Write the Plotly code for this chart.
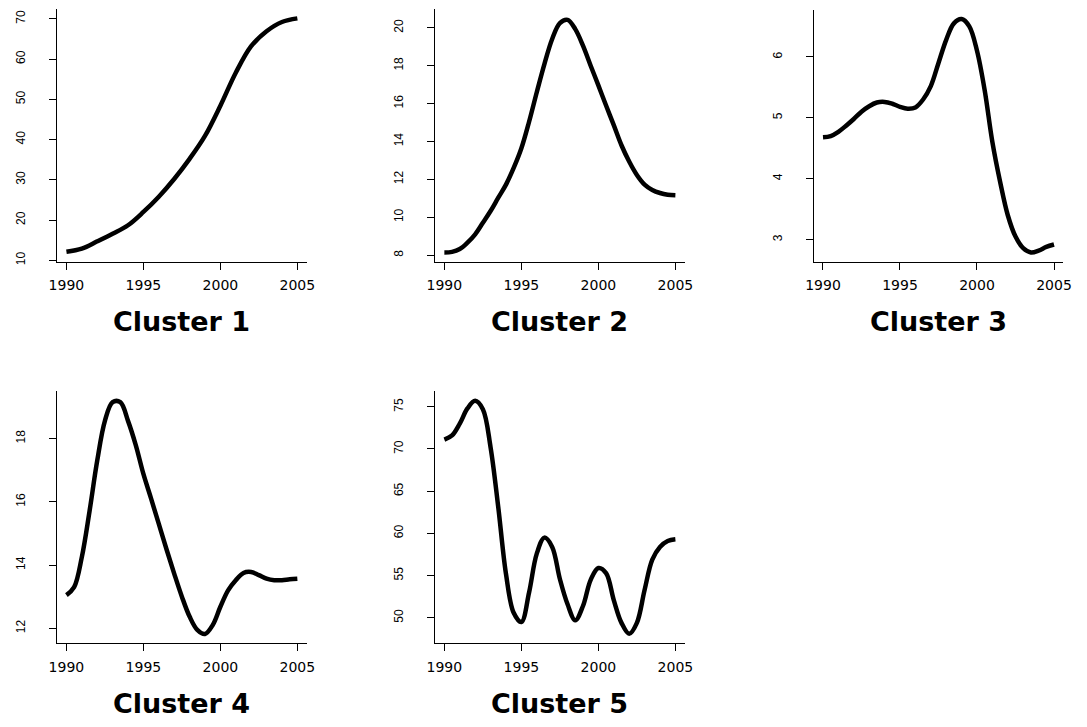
import plotly.graph_objects as go

# ---- data ----
years1 = [1990, 1991, 1992, 1993, 1994, 1995, 1996, 1997, 1998, 1999, 2000, 2001, 2002, 2003, 2004, 2005]
c1 = [12.1, 12.9, 14.7, 16.6, 18.7, 22.0, 25.8, 30.2, 35.2, 40.9, 48.4, 56.6, 63.2, 66.9, 69.2, 70.1]

years_half = [1990, 1990.5, 1991, 1991.5, 1992, 1992.5, 1993, 1993.5, 1994, 1994.5, 1995, 1995.5,
              1996, 1996.5, 1997, 1997.5, 1998, 1998.5, 1999, 1999.5, 2000, 2000.5, 2001, 2001.5,
              2002, 2002.5, 2003, 2003.5, 2004, 2004.5, 2005]

c2 = [8.14, 8.17, 8.32, 8.66, 9.1, 9.71, 10.33, 11.03, 11.72, 12.6, 13.64, 15.04,
      16.6, 18.1, 19.41, 20.25, 20.42, 19.93, 19.06, 18.0, 16.96, 15.9, 14.86, 13.8,
      12.94, 12.23, 11.72, 11.44, 11.28, 11.19, 11.16]

c3 = [4.68, 4.7, 4.77, 4.87, 4.98, 5.1, 5.19, 5.25, 5.26, 5.23, 5.18, 5.15,
      5.17, 5.3, 5.52, 5.9, 6.28, 6.55, 6.62, 6.5, 6.1, 5.45, 4.6, 3.95,
      3.4, 3.05, 2.86, 2.79, 2.82, 2.88, 2.92]

c4 = [13.05, 13.3, 14.25, 15.7, 17.3, 18.56, 19.15, 19.15, 18.56, 17.8, 16.88, 16.1,
      15.3, 14.5, 13.73, 13.0, 12.37, 11.95, 11.82, 12.1, 12.68, 13.2, 13.52, 13.75,
      13.78, 13.68, 13.57, 13.52, 13.52, 13.55, 13.57]

c5 = [71.1, 71.6, 73.0, 74.8, 75.7, 74.7, 70.2, 63.1, 55.2, 50.6, 49.5, 53.0,
      57.6, 59.5, 58.4, 54.6, 51.6, 49.7, 51.4, 54.5, 55.9, 55.3, 52.1, 49.4,
      48.1, 49.4, 53.3, 56.9, 58.4, 59.1, 59.3]

titles = ["Cluster 1", "Cluster 2", "Cluster 3", "Cluster 4", "Cluster 5"]
x_ticks = [1990, 1995, 2000, 2005]
y_ticks = [
    [10, 20, 30, 40, 50, 60, 70],
    [8, 10, 12, 14, 16, 18, 20],
    [3, 4, 5, 6],
    [12, 14, 16, 18],
    [50, 55, 60, 65, 70, 75],
]

series_x = [years1, years_half, years_half, years_half, years_half]
series_y = [c1, c2, c3, c4, c5]

# ---- layout geometry (pixels) ----
W, H = 1087, 727
boxes = [  # left, right, top, bottom
    (49, 302.6, 9.5, 263),
    (433.3, 687, 9.5, 263),
    (818.3, 1072, 10, 263),
    (49, 302.6, 393.3, 646.7),
    (433.3, 687, 393.3, 646.7),
]
y_ranges = [(9.68, 72.32), (7.66, 20.97), (2.64, 6.77), (11.53, 19.5), (47.0, 76.85)]
title_y = [323, 323, 323, 707, 707]

fig = go.Figure()
layout = dict(
    width=W, height=H, autosize=False,
    margin=dict(l=0, r=0, t=0, b=0),
    paper_bgcolor="white", plot_bgcolor="white",
    showlegend=False,
)
annotations = []
for i in range(5):
    n = "" if i == 0 else str(i + 1)
    l, r, t, b = boxes[i]
    fig.add_trace(go.Scatter(
        x=series_x[i], y=series_y[i], mode="lines",
        line=dict(color="black", width=4.5, shape="spline", smoothing=1.0),
        xaxis="x" + n, yaxis="y" + n, hoverinfo="skip",
    ))
    layout["xaxis" + n] = dict(
        domain=[l / W, r / W], anchor="y" + n,
        range=[1989.4, 2005.6], tickvals=x_ticks,
        showline=True, linecolor="black", linewidth=1,
        ticks="outside", ticklen=7, tickwidth=1, tickcolor="black",
        showgrid=False, zeroline=False,
        tickfont=dict(family="DejaVu Sans", size=14, color="black"),
        ticklabelstandoff=4,
    )
    layout["yaxis" + n] = dict(
        domain=[1 - b / H, 1 - t / H], anchor="x" + n,
        range=list(y_ranges[i]), tickvals=y_ticks[i],
        showline=True, linecolor="black", linewidth=1,
        ticks="outside", ticklen=7, tickwidth=1, tickcolor="black",
        showgrid=False, zeroline=False, tickangle=-90,
        tickfont=dict(family="Liberation Sans", size=12, color="black"),
        ticklabelstandoff=19,
    )
    annotations.append(dict(
        text="<b>" + titles[i] + "</b>", xref="paper", yref="paper",
        x=(l + r) / 2 / W, y=1 - title_y[i] / H,
        xanchor="center", yanchor="middle", showarrow=False,
        font=dict(family="DejaVu Sans", size=27, color="black"),
    ))
layout["annotations"] = annotations
fig.update_layout(**layout)
fig.write_html("out.html")
